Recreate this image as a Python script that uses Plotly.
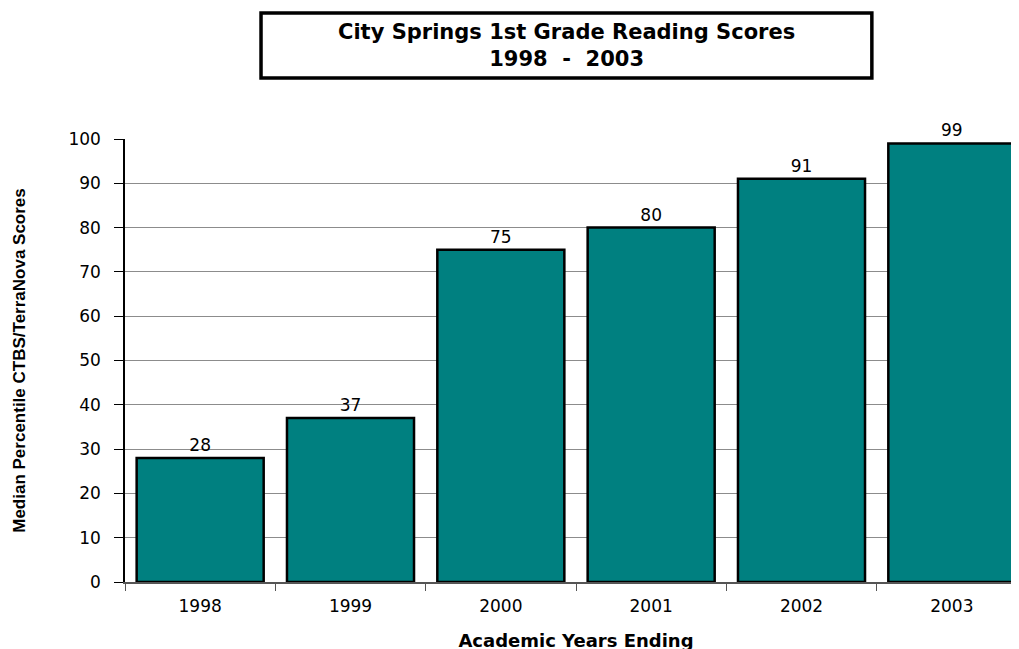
import plotly.graph_objects as go

years = ["1998", "1999", "2000", "2001", "2002", "2003"]
scores = [28, 37, 75, 80, 91, 99]
y_ticks = [0, 10, 20, 30, 40, 50, 60, 70, 80, 90, 100]

title_lines = ["City Springs 1st Grade Reading Scores", "1998  -  2003"]
x_title = "Academic Years Ending"
y_title = "Median Percentile CTBS/TerraNova Scores"

font_wide = "DejaVu Sans, Verdana, sans-serif"
font_main = "Liberation Sans, Arial, sans-serif"

fig = go.Figure()
fig.add_trace(go.Bar(
    x=years, y=scores,
    marker=dict(color="#008080", line=dict(color="black", width=2.5)),
    text=[str(v) for v in scores],
    textposition="outside",
    textfont=dict(family=font_wide, size=17, color="black"),
    cliponaxis=False,
    width=0.845,
))

fig.update_layout(
    width=1019, height=649,
    margin=dict(l=117, r=0, t=131, b=75),
    paper_bgcolor="white", plot_bgcolor="white",
    showlegend=False,
    font=dict(family=font_main, color="black"),
)

fig.update_xaxes(
    type="category",
    range=[-0.5, 5.5],
    tickson="boundaries",
    ticks="outside", ticklen=7, tickcolor="#555555",
    showline=True, linecolor="#555555", linewidth=1.5,
    showgrid=False,
    tickfont=dict(size=17, family=font_wide),
    ticklabelstandoff=8,
    title=dict(text="<b>" + x_title + "</b>", font=dict(size=18, family=font_wide), standoff=19),
)
fig.update_yaxes(
    range=[0, 100],
    tickvals=y_ticks,
    ticks="outside", ticklen=9, tickcolor="black",
    showline=True, linecolor="black", linewidth=1.5,
    showgrid=True, gridcolor="#8c8c8c", gridwidth=1,
    zeroline=False,
    tickfont=dict(size=17, family=font_wide),
    ticklabelstandoff=10,
    title=dict(text="<b>" + y_title + "</b>",
               font=dict(size=17, family="Liberation Sans Narrow, Liberation Sans, Arial, sans-serif"),
               standoff=38),
)

fig.add_shape(type="rect", xref="paper", yref="paper",
              x0=0.1508, x1=0.828, y0=1.1377, y1=1.2844,
              line=dict(color="black", width=3.5), fillcolor="white", layer="above")
fig.add_annotation(xref="paper", yref="paper", x=0.489, y=1.212,
                   text="<b>" + title_lines[0] + "<br>" + title_lines[1] + "</b>",
                   showarrow=False, font=dict(size=21, family=font_wide, color="black"),
                   align="center", xanchor="center", yanchor="middle")

fig.write_html("out.html")
